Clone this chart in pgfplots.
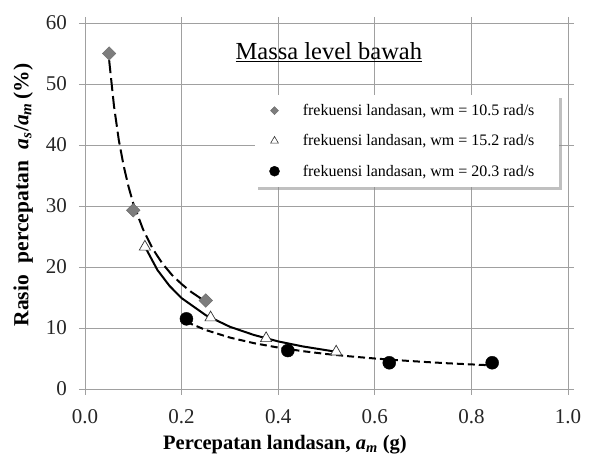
\documentclass[border=0pt]{standalone}
\usepackage{pgfplots}
\pgfplotsset{compat=1.18}
\usepackage{fontspec}
\setmainfont{Liberation Serif}
\usetikzlibrary{shadows}

\definecolor{gridgray}{RGB}{160,160,160}
\definecolor{diamondgray}{RGB}{125,125,125}

\begin{document}
\begin{tikzpicture}
\begin{axis}[
  scale only axis,
  width=483pt, height=366pt,
  xmin=0, xmax=1, ymin=0, ymax=60,
  xtick={0,0.2,...,1.0}, ytick={0,10,...,60},
  grid=major,
  grid style={gridgray, line width=0.7pt},
  axis line style={gridgray, line width=0.7pt},
  tick style={gridgray, line width=0.7pt},
  tick align=outside,
  major tick length=6pt,
  /pgf/number format/assume math mode=true,
  xticklabel style={font=\fontsize{21}{24}\selectfont, text=black!85,
    anchor=center, yshift=-22pt,
    /pgf/number format/.cd, fixed, fixed zerofill, precision=1},
  yticklabel style={font=\fontsize{21}{24}\selectfont, text=black!85,
    anchor=east, inner sep=0pt, xshift=-12pt,
    /pgf/number format/.cd, fixed, precision=0},
  xlabel={\textbf{Percepatan landasan, \textit{a}\textsubscript{\textit{m}} (g)}},
  ylabel={\textbf{Rasio\hspace{0.55em}percepatan\hspace{0.55em}\textit{a}\textsubscript{\textit{s}}/\textit{a}\textsubscript{\textit{m}}\,(\%)}},
  xlabel style={font=\fontsize{20.5}{23}\selectfont, at={(axis description cs:0.414,-0.153)}, anchor=center},
  ylabel style={font=\fontsize{21.5}{24}\selectfont, at={(axis description cs:-0.128,0.53)}, anchor=center},
  legend style={
    at={(0.352,0.803)}, anchor=north west,
    draw=none, fill=white,
    drop shadow={shadow xshift=3pt, shadow yshift=-3pt, fill=black!45, opacity=0.55},
    font=\fontsize{16}{18}\selectfont,
    nodes={inner sep=0pt},
    row sep=17.5pt,
    inner xsep=13pt, inner ysep=9pt,
    legend cell align=left,
    /tikz/every odd column/.append style={column sep=0pt},
  },
  legend image code/.code={%
    \path (0pt,0pt) (34pt,0pt);
    \draw plot coordinates {(6pt,0pt)};
  },
]

% power-law trend curves
\addplot[black, line width=2pt, dash pattern=on 13pt off 5pt, forget plot] coordinates {
  (0.05,53.9) (0.06,46.4) (0.07,40.8) (0.08,36.6) (0.09,33.2) (0.10,30.4)
  (0.12,26.2) (0.14,23.0) (0.16,20.6) (0.18,18.7) (0.20,17.2) (0.22,15.9) (0.25,14.3)};
\addplot[black, line width=2pt, forget plot] coordinates {
  (0.125,23.2) (0.15,19.5) (0.175,16.9) (0.20,14.9) (0.25,12.1) (0.30,10.2)
  (0.35,8.85) (0.40,7.80) (0.45,6.99) (0.52,6.1)};
\addplot[black, line width=2pt, dash pattern=on 7pt off 4pt, forget plot] coordinates {
  (0.21,11.0) (0.25,9.67) (0.30,8.43) (0.35,7.51) (0.40,6.79) (0.45,6.21)
  (0.50,5.73) (0.55,5.34) (0.60,5.00) (0.65,4.71) (0.70,4.45) (0.75,4.22) (0.84,3.88)};

% measured points
\addplot[only marks, mark=square*, mark size=4.8pt, mark options={rotate=45},
  draw=diamondgray!85!black, fill=diamondgray, forget plot] coordinates {
  (0.05,55.0) (0.10,29.3) (0.25,14.5)};
\addplot[only marks, mark=triangle*, mark size=6.5pt, draw=black!80, fill=white,
  line width=0.7pt, forget plot] coordinates {
  (0.124,23.3) (0.26,11.7) (0.375,8.3) (0.52,6.1)};
\addplot[only marks, mark=*, mark size=6.5pt, black, forget plot] coordinates {
  (0.21,11.5) (0.42,6.3) (0.63,4.3) (0.843,4.3)};

% legend entries with smaller symbols
\addlegendimage{only marks, mark=square*, mark size=2.8pt, mark options={rotate=45},
  draw=diamondgray!85!black, fill=diamondgray}
\addlegendentry{frekuensi landasan, wm = 10.5 rad/s\hspace*{12pt}}
\addlegendimage{only marks, mark=triangle*, mark size=4.5pt, draw=black!80, fill=white, line width=0.6pt}
\addlegendentry{frekuensi landasan, wm = 15.2 rad/s\hspace*{12pt}}
\addlegendimage{only marks, mark=*, mark size=5pt, black}
\addlegendentry{frekuensi landasan, wm = 20.3 rad/s\hspace*{12pt}}

\node[font=\fontsize{24.5}{28}\selectfont, anchor=center] at (rel axis cs:0.505,0.92) {\underline{Massa level bawah}};
\end{axis}
\pgfresetboundingbox
\path[use as bounding box] (current axis.south west) ++(-85pt,-69pt) rectangle ([shift={(26pt,23pt)}]current axis.north east);
\end{tikzpicture}
\end{document}
